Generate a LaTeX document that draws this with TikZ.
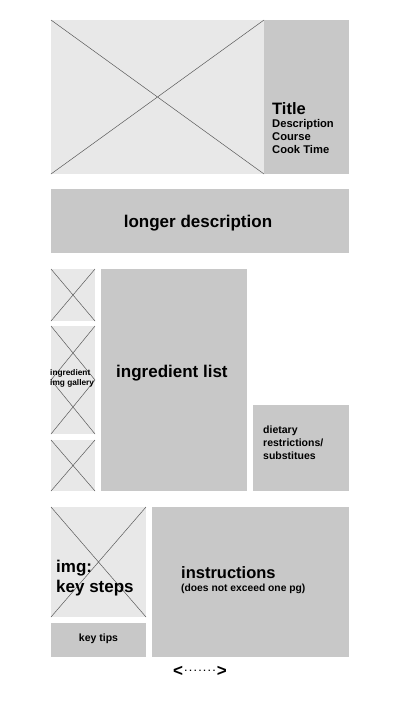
\documentclass[tikz,border=0pt]{standalone}
\usepackage{fontspec}
\setmainfont{Liberation Sans}
\begin{document}
\begin{tikzpicture}[x=1pt,y=-1pt,
  imgbox/.style={fill=imgfill},
  txtbox/.style={fill=boxfill},
  cross/.style={draw=crossline,line width=0.5pt},
  lbl/.style={inner sep=0pt,font=\bfseries,text=black,align=left}]
\definecolor{imgfill}{HTML}{E8E8E8}
\definecolor{boxfill}{HTML}{C8C8C8}
\definecolor{crossline}{HTML}{5A5A5A}
\useasboundingbox (0,0) rectangle (400,701);
\fill[white] (0,0) rectangle (400,701);

% header: hero image and summary
\path[imgbox] (51,20) rectangle (264,174);
\draw[cross] (51,20) -- (264,174) (51,174) -- (264,20);
\path[txtbox] (264,20) rectangle (349,174);
\node[lbl,anchor=base west,font=\bfseries\fontsize{16.5}{16}\selectfont] (title) at (272,114) {Title};
\node[lbl,anchor=base west,font=\bfseries\fontsize{11.2}{13}\selectfont] (meta) at (272,127) {Description};
\node[lbl,anchor=base west,font=\bfseries\fontsize{11.2}{13}\selectfont] (course) at (272,140) {Course};
\node[lbl,anchor=base west,font=\bfseries\fontsize{11.2}{13}\selectfont] (cook) at (272,153) {Cook Time};

% longer description
\path[txtbox] (51,189) rectangle (349,253);
\node[lbl,font=\bfseries\fontsize{17}{17}\selectfont] (longdesc) at (198,223) {longer description};

% ingredient gallery
\path[imgbox] (51,269) rectangle (95,321);
\draw[cross] (51,269) -- (95,321) (51,321) -- (95,269);
\path[imgbox] (51,326) rectangle (95,434);
\draw[cross] (51,326) -- (95,380) (51,380) -- (95,326);
\draw[cross] (51,380) -- (95,434) (51,434) -- (95,380);
\path[imgbox] (51,440) rectangle (95,491);
\draw[cross] (51,440) -- (95,491) (51,491) -- (95,440);
\node[lbl,anchor=west,font=\bfseries\fontsize{8.3}{10}\selectfont] (gallery) at (50,378) {ingredient\\img gallery};

% ingredient list
\path[txtbox] (101,269) rectangle (247,491);
\node[lbl,anchor=west,font=\bfseries\fontsize{17}{17}\selectfont] (inglist) at (116,373) {ingredient list};

% dietary notes
\path[txtbox] (253,405) rectangle (349,491);
\node[lbl,anchor=north west,font=\bfseries\fontsize{10.5}{13}\selectfont] (diet) at (263,426) {dietary\\restrictions/\\substitues};

% steps
\path[imgbox] (51,507) rectangle (146,617);
\draw[cross] (51,507) -- (146,617) (51,617) -- (146,507);
\node[lbl,anchor=west,font=\bfseries\fontsize{17}{20}\selectfont] (keysteps) at (56,578) {img:\\key steps};
\path[txtbox] (51,623) rectangle (146,657);
\node[lbl,font=\bfseries\fontsize{10.5}{12}\selectfont] (tips) at (98.5,639) {key tips};
\path[txtbox] (152,507) rectangle (349,657);
\node[lbl,anchor=base west,font=\bfseries\fontsize{16.5}{16}\selectfont] (instr) at (181,578) {instructions};
\node[lbl,anchor=base west,font=\bfseries\fontsize{10.3}{12}\selectfont] (instrnote) at (181,591) {(does not exceed one pg)};

% scroll hint
\node[lbl,font=\bfseries\fontsize{17}{17}\selectfont] (scroll) at (200,671)
  {<\hspace{1.5pt}\raisebox{4.5pt}{\fontsize{9}{9}\selectfont.\hspace{2.2pt}.\hspace{2.2pt}.\hspace{2.2pt}.\hspace{2.2pt}.\hspace{2.2pt}.\hspace{2.2pt}.}\hspace{1.5pt}>};
\end{tikzpicture}
\end{document}
